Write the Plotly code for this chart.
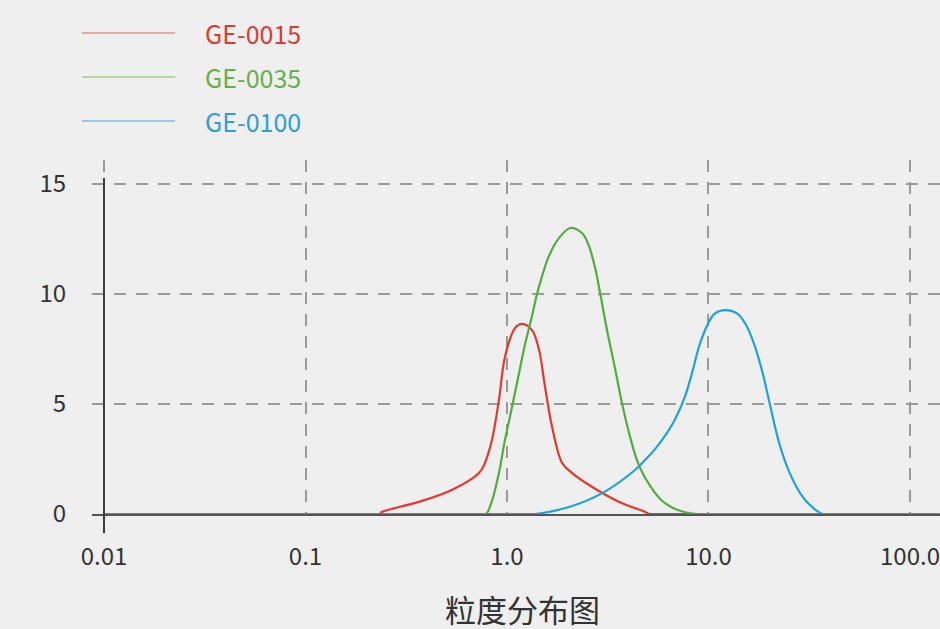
import plotly.graph_objects as go

# ---------------- data ----------------
series_names = ["GE-0015", "GE-0035", "GE-0100"]

red_x = [0.01, 0.2, 0.233, 0.239, 0.365, 0.532, 0.726, 0.777, 0.842, 0.912, 0.977, 1.096, 1.188,
         1.331, 1.443, 1.545, 1.675, 1.878, 2.105, 2.65, 3.61, 4.86, 5.09, 5.5, 140]
red_y = [0, 0, 0, 0.09, 0.55, 1.09, 1.86, 2.32, 3.36, 5.18, 7.14, 8.45, 8.64,
         8.36, 7.45, 5.77, 3.95, 2.32, 1.86, 1.23, 0.55, 0.09, 0, 0, 0]

green_x = [0.01, 0.75, 0.787, 0.842, 0.912, 0.977, 1.059, 1.147, 1.228, 1.331, 1.409, 1.492,
           1.61, 1.815, 2.06, 2.36, 2.54, 2.74, 2.90, 3.13, 3.44, 3.72, 4.03, 4.52, 5.24,
           5.88, 6.59, 7.65, 8.82, 9.5, 140]
green_y = [0, 0, 0, 0.59, 1.86, 3.36, 4.86, 6.4, 7.7, 9.0, 10.0, 10.8,
           11.7, 12.55, 13.0, 12.76, 12.23, 11.17, 10.03, 8.4, 6.6, 5.05, 3.7, 2.2, 1.15,
           0.6, 0.3, 0.08, 0, 0, 0]

blue_x = [0.01, 1.2, 1.38, 2.03, 2.97, 4.32, 4.84, 5.43, 6.08, 6.82, 7.65, 8.28, 8.97, 9.61,
          10.06, 10.77, 12.08, 13.85, 15.2, 16.8, 18.4, 20.1, 22.5, 25.3, 29.4, 34.1, 36.9,
          40, 140]
blue_y = [0, 0, 0, 0.32, 0.95, 2.0, 2.45, 2.95, 3.55, 4.3, 5.35, 6.4, 7.6, 8.35,
          8.74, 9.12, 9.27, 9.12, 8.67, 7.76, 6.55, 5.05, 3.18, 1.86, 0.77, 0.18, 0,
          0, 0]

x_tickvals = [0.01, 0.1, 1, 10, 100]
x_ticktext = ["0.01", "0.1", "1.0", "10.0", "100.0"]
y_tickvals = [0, 5, 10, 15]
x_title = "粒度分布图"

# ---------------- style ----------------
line_colors = ["#e5382c", "#4fae3d", "#1ca2de"]
text_colors = ["#dd3a2e", "#66b04a", "#2c9ed8"]
legend_line_colors = ["#ec8f80", "#9fcf8a", "#7fbde0"]
FONT = "Noto Sans CJK SC, Noto Sans, sans-serif"
BG = "#efefef"

fig = go.Figure()
for name, xs, ys, col in zip(series_names, [red_x, green_x, blue_x],
                             [red_y, green_y, blue_y], line_colors):
    fig.add_trace(go.Scatter(x=xs, y=ys, mode="lines", name=name,
                             line=dict(color=col, width=2.2, shape="spline", smoothing=1.0),
                             cliponaxis=False, showlegend=False, hoverinfo="skip"))

L, R, T, B = 92, 0, 160, 115
W, H = 940, 629
pw, ph = W - L - R, H - T - B

def px_x(p):
    return (p - L) / pw

def px_y(p):
    return (H - B - p) / ph

shapes = []
annotations = []
# y axis line at x = 0.01 (extends below the x axis)
shapes.append(dict(type="line", xref="paper", yref="paper",
                   x0=px_x(104), x1=px_x(104), y0=px_y(533), y1=px_y(178),
                   line=dict(color="#3d3d3d", width=2)))
# manual legend
for i, (name, lc, tc) in enumerate(zip(series_names, legend_line_colors, text_colors)):
    yy = px_y(33 + 44 * i)
    shapes.append(dict(type="line", xref="paper", yref="paper",
                       x0=px_x(82), x1=px_x(175), y0=yy, y1=yy,
                       line=dict(color=lc, width=1.5)))
    annotations.append(dict(xref="paper", yref="paper", x=px_x(203), y=yy,
                            xanchor="left", yanchor="middle", showarrow=False,
                            text=name, font=dict(family=FONT, size=25, color=tc)))
# x-axis title
annotations.append(dict(xref="paper", yref="paper", x=px_x(522), y=px_y(608),
                        xanchor="center", yanchor="middle", showarrow=False,
                        text=x_title, font=dict(family=FONT, size=31, color="#333333")))

fig.update_layout(
    width=W, height=H,
    margin=dict(l=L, r=R, t=T, b=B),
    paper_bgcolor=BG, plot_bgcolor=BG,
    font=dict(family=FONT, color="#333333"),
    shapes=shapes, annotations=annotations,
    showlegend=False,
)
fig.update_xaxes(type="log", range=[-2.0596, 2.149],
                 tickvals=x_tickvals, ticktext=x_ticktext,
                 tickfont=dict(size=24, color="#333333"),
                 ticks="outside", ticklen=0, ticklabelstandoff=20,
                 showgrid=True, gridcolor="#9a9a9a", gridwidth=2, griddash="12px,10px",
                 showline=True, linecolor="#555555", linewidth=2, layer="below traces",
                 zeroline=False)
fig.update_yaxes(range=[0, 16.09], tickvals=y_tickvals,
                 tickfont=dict(size=24, color="#333333"),
                 ticks="outside", ticklen=0, ticklabelstandoff=20,
                 showgrid=True, gridcolor="#9a9a9a", gridwidth=2, griddash="12px,10px",
                 showline=False, zeroline=False)

fig.write_html("out.html", config={"displayModeBar": False},
               post_script="document.body.style.margin='0';document.body.style.background='#efefef';")
